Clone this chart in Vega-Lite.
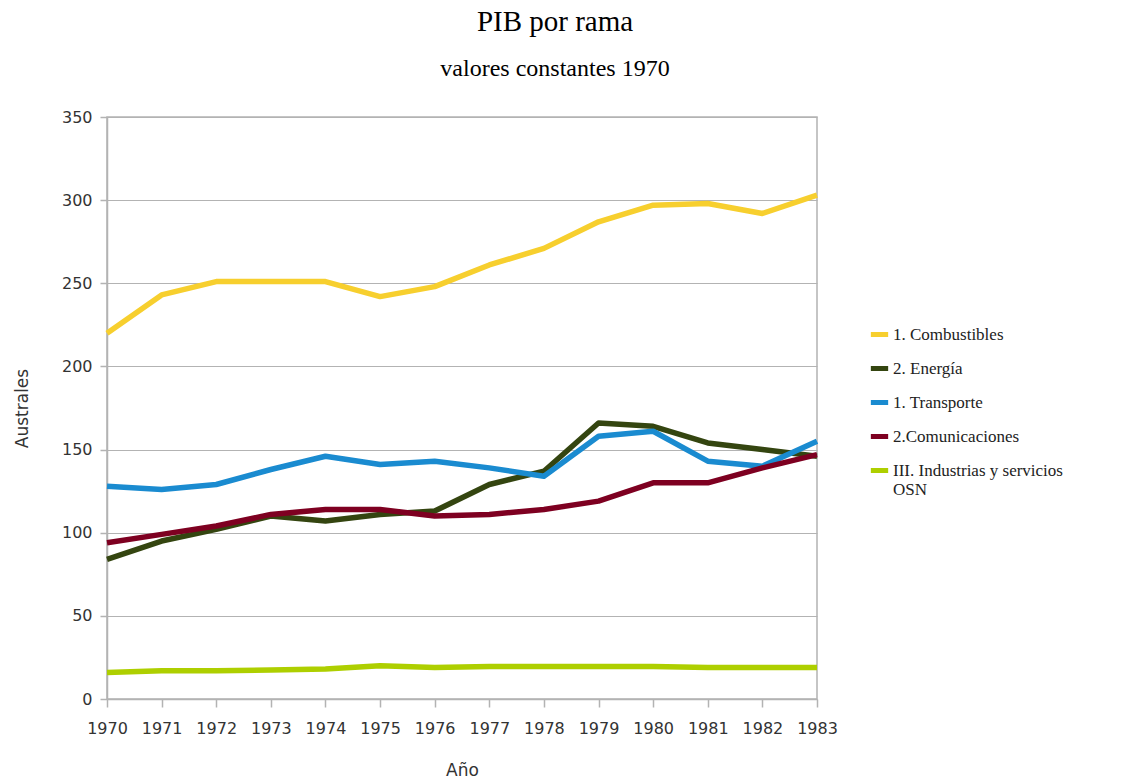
{
  "$schema": "https://vega.github.io/schema/vega-lite/v6.json",
  "autosize": "none",
  "width": 710,
  "height": 582,
  "padding": {"left": 107, "top": 117, "right": 319, "bottom": 84},
  "background": "white",
  "title": {
    "text": "PIB por rama",
    "subtitle": "valores constantes 1970",
    "font": "Liberation Serif",
    "fontSize": 29,
    "fontWeight": "normal",
    "color": "#000000",
    "subtitleFont": "Liberation Serif",
    "subtitleFontSize": 24,
    "subtitleColor": "#000000",
    "subtitlePadding": 20,
    "anchor": "middle",
    "dx": 93,
    "offset": 28
  },
  "config": {
    "view": {"stroke": "#b3b3b3", "strokeWidth": 1.5},
    "axis": {
      "labelFont": "DejaVu Sans",
      "labelFontSize": 16,
      "labelColor": "#333333",
      "titleFont": "DejaVu Sans",
      "titleFontSize": 17,
      "titleFontWeight": "normal",
      "titleColor": "#333333",
      "domainColor": "#b3b3b3",
      "tickColor": "#b3b3b3",
      "gridColor": "#b3b3b3",
      "domainWidth": 1.5,
      "tickWidth": 1.5
    }
  },
  "data": {
    "values": [
      {"year": "1970", "serie": "1. Combustibles", "v": 220},
      {"year": "1971", "serie": "1. Combustibles", "v": 243},
      {"year": "1972", "serie": "1. Combustibles", "v": 251},
      {"year": "1973", "serie": "1. Combustibles", "v": 251},
      {"year": "1974", "serie": "1. Combustibles", "v": 251},
      {"year": "1975", "serie": "1. Combustibles", "v": 242},
      {"year": "1976", "serie": "1. Combustibles", "v": 248},
      {"year": "1977", "serie": "1. Combustibles", "v": 261},
      {"year": "1978", "serie": "1. Combustibles", "v": 271},
      {"year": "1979", "serie": "1. Combustibles", "v": 287},
      {"year": "1980", "serie": "1. Combustibles", "v": 297},
      {"year": "1981", "serie": "1. Combustibles", "v": 298},
      {"year": "1982", "serie": "1. Combustibles", "v": 292},
      {"year": "1983", "serie": "1. Combustibles", "v": 303},
      {"year": "1970", "serie": "2. Energía", "v": 84},
      {"year": "1971", "serie": "2. Energía", "v": 95},
      {"year": "1972", "serie": "2. Energía", "v": 102},
      {"year": "1973", "serie": "2. Energía", "v": 110},
      {"year": "1974", "serie": "2. Energía", "v": 107},
      {"year": "1975", "serie": "2. Energía", "v": 111},
      {"year": "1976", "serie": "2. Energía", "v": 113},
      {"year": "1977", "serie": "2. Energía", "v": 129},
      {"year": "1978", "serie": "2. Energía", "v": 137},
      {"year": "1979", "serie": "2. Energía", "v": 166},
      {"year": "1980", "serie": "2. Energía", "v": 164},
      {"year": "1981", "serie": "2. Energía", "v": 154},
      {"year": "1982", "serie": "2. Energía", "v": 150},
      {"year": "1983", "serie": "2. Energía", "v": 146},
      {"year": "1970", "serie": "1. Transporte", "v": 128},
      {"year": "1971", "serie": "1. Transporte", "v": 126},
      {"year": "1972", "serie": "1. Transporte", "v": 129},
      {"year": "1973", "serie": "1. Transporte", "v": 138},
      {"year": "1974", "serie": "1. Transporte", "v": 146},
      {"year": "1975", "serie": "1. Transporte", "v": 141},
      {"year": "1976", "serie": "1. Transporte", "v": 143},
      {"year": "1977", "serie": "1. Transporte", "v": 139},
      {"year": "1978", "serie": "1. Transporte", "v": 134},
      {"year": "1979", "serie": "1. Transporte", "v": 158},
      {"year": "1980", "serie": "1. Transporte", "v": 161},
      {"year": "1981", "serie": "1. Transporte", "v": 143},
      {"year": "1982", "serie": "1. Transporte", "v": 140},
      {"year": "1983", "serie": "1. Transporte", "v": 155},
      {"year": "1970", "serie": "2.Comunicaciones", "v": 94},
      {"year": "1971", "serie": "2.Comunicaciones", "v": 99},
      {"year": "1972", "serie": "2.Comunicaciones", "v": 104},
      {"year": "1973", "serie": "2.Comunicaciones", "v": 111},
      {"year": "1974", "serie": "2.Comunicaciones", "v": 114},
      {"year": "1975", "serie": "2.Comunicaciones", "v": 114},
      {"year": "1976", "serie": "2.Comunicaciones", "v": 110},
      {"year": "1977", "serie": "2.Comunicaciones", "v": 111},
      {"year": "1978", "serie": "2.Comunicaciones", "v": 114},
      {"year": "1979", "serie": "2.Comunicaciones", "v": 119},
      {"year": "1980", "serie": "2.Comunicaciones", "v": 130},
      {"year": "1981", "serie": "2.Comunicaciones", "v": 130},
      {"year": "1982", "serie": "2.Comunicaciones", "v": 139},
      {"year": "1983", "serie": "2.Comunicaciones", "v": 147},
      {"year": "1970", "serie": "III. Industrias y servicios OSN", "v": 16},
      {"year": "1971", "serie": "III. Industrias y servicios OSN", "v": 17},
      {"year": "1972", "serie": "III. Industrias y servicios OSN", "v": 17},
      {"year": "1973", "serie": "III. Industrias y servicios OSN", "v": 17.5},
      {"year": "1974", "serie": "III. Industrias y servicios OSN", "v": 18},
      {"year": "1975", "serie": "III. Industrias y servicios OSN", "v": 20},
      {"year": "1976", "serie": "III. Industrias y servicios OSN", "v": 19},
      {"year": "1977", "serie": "III. Industrias y servicios OSN", "v": 19.5},
      {"year": "1978", "serie": "III. Industrias y servicios OSN", "v": 19.5},
      {"year": "1979", "serie": "III. Industrias y servicios OSN", "v": 19.5},
      {"year": "1980", "serie": "III. Industrias y servicios OSN", "v": 19.5},
      {"year": "1981", "serie": "III. Industrias y servicios OSN", "v": 19},
      {"year": "1982", "serie": "III. Industrias y servicios OSN", "v": 19},
      {"year": "1983", "serie": "III. Industrias y servicios OSN", "v": 19}
    ]
  },
  "mark": {"type": "line", "strokeWidth": 5.5, "strokeJoin": "round"},
  "encoding": {
    "x": {
      "field": "year",
      "type": "ordinal",
      "scale": {"type": "point", "padding": 0},
      "axis": {
        "title": "Año",
        "labelAngle": 0,
        "grid": false,
        "tickSize": 8,
        "labelPadding": 13,
        "titlePadding": 26
      }
    },
    "y": {
      "field": "v",
      "type": "quantitative",
      "scale": {"domain": [0, 350], "nice": false},
      "axis": {
        "title": "Australes",
        "values": [0, 50, 100, 150, 200, 250, 300, 350],
        "tickSize": 7,
        "labelPadding": 8,
        "titlePadding": 30
      }
    },
    "color": {
      "field": "serie",
      "type": "nominal",
      "sort": ["1. Combustibles", "2. Energía", "1. Transporte", "2.Comunicaciones", "III. Industrias y servicios OSN"],
      "scale": {
        "domain": ["1. Combustibles", "2. Energía", "1. Transporte", "2.Comunicaciones", "III. Industrias y servicios OSN"],
        "range": ["#f7cf2e", "#344510", "#1a8bd0", "#7e0021", "#aecf00"]
      },
      "legend": {
        "title": null,
        "orient": "none",
        "legendX": 761,
        "legendY": 206,
        "symbolType": "stroke",
        "symbolStrokeWidth": 5,
        "symbolSize": 300,
        "labelFont": "Liberation Serif",
        "labelFontSize": 17,
        "labelColor": "#222222",
        "labelLimit": 300,
        "rowPadding": 12,
        "labelOffset": 2,
        "labelExpr": "datum.label == 'III. Industrias y servicios OSN' ? ['III. Industrias y servicios', 'OSN'] : datum.label"
      }
    }
  }
}
